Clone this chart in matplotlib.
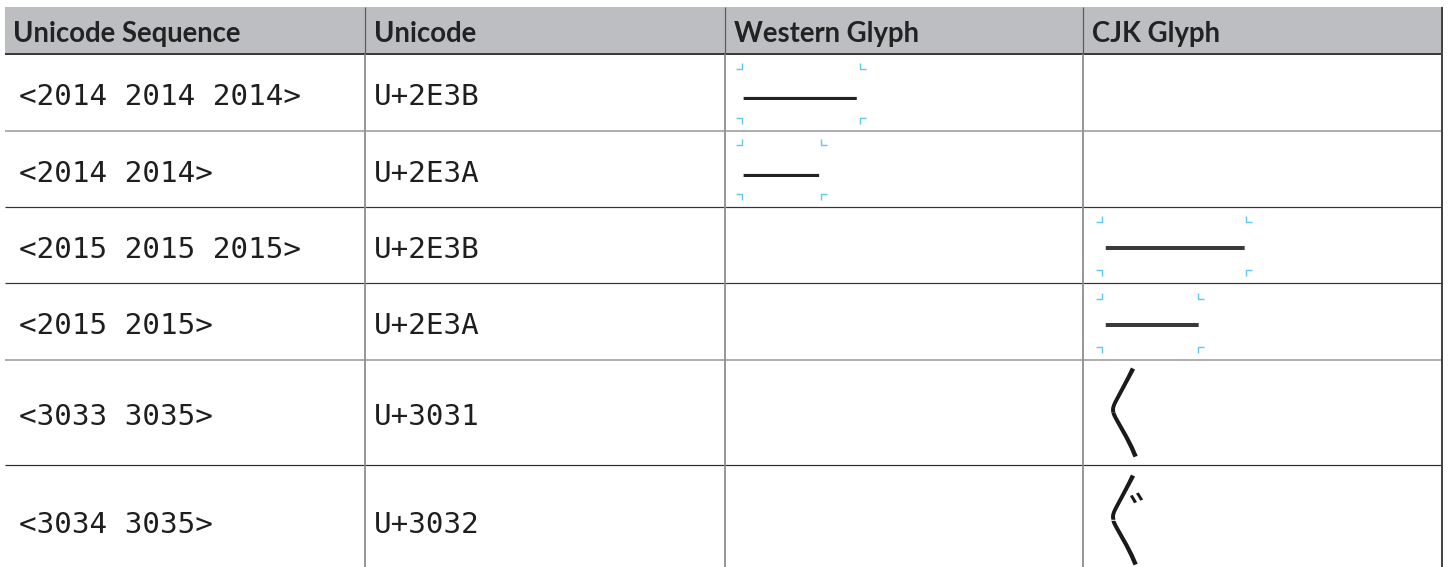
import matplotlib
matplotlib.use("Agg")
import matplotlib.pyplot as plt
from matplotlib.patches import Rectangle

# ---------------- data ----------------
headers = ["Unicode Sequence", "Unicode", "Western Glyph", "CJK Glyph"]
sequences = ["<2014 2014 2014>", "<2014 2014>", "<2015 2015 2015>",
             "<2015 2015>", "<3033 3035>", "<3034 3035>"]
codepoints = ["U+2E3B", "U+2E3A", "U+2E3B", "U+2E3A", "U+3031", "U+3032"]
western_glyphs = ["\u2E3B", "\u2E3A", "", "", "", ""]
cjk_glyphs = ["", "", "\u2E3B", "\u2E3A", "\u3031", "\u3032"]

# glyph advance (in em) of the dash glyphs
ADVANCE_EM = {"\u2E3B": 3, "\u2E3A": 2}
VERTICAL_HALVES = {0x3033, 0x3034, 0x3035}


def seq_chars(seq):
    return [chr(int(h, 16)) for h in seq.strip("<>").split()]


# ---------------- layout ----------------
W, H, DPI = 1450, 567, 100
PT = 72.0 / DPI
col_edges = [5, 365, 725, 1083, 1442]
row_edges = [7, 54, 131, 207, 283, 360, 465, 575]
hline_styles = [("#3a3a3a", 2.0), ("#9c9c9c", 1.6), ("#333333", 1.2),
                ("#333333", 1.2), ("#9c9c9c", 1.6), ("#2b2b2b", 1.2)]
HEADER_BG = "#bdbec2"
TEXT_C = "#1e1e1e"
MARK_C = "#5ec9f3"

fig = plt.figure(figsize=(W / DPI, H / DPI), dpi=DPI)
ax = fig.add_axes([0, 0, 1, 1])
ax.set_xlim(0, W)
ax.set_ylim(H, 0)
ax.axis("off")

# header background
ax.add_patch(Rectangle((col_edges[0], row_edges[0]), col_edges[-1] - col_edges[0],
                       row_edges[1] - row_edges[0], facecolor=HEADER_BG,
                       edgecolor="none", zorder=0))

# horizontal rules
for y, (c, lw) in zip(row_edges[1:-1], hline_styles):
    ax.plot([col_edges[0], col_edges[-1]], [y, y], color=c, lw=lw * PT,
            solid_capstyle="butt", zorder=2)

# vertical rules
for x in col_edges[1:-1]:
    ax.plot([x, x], [row_edges[1], H + 5], color="#8e8e8e", lw=1.8 * PT,
            solid_capstyle="butt", zorder=2)
    ax.plot([x, x], [row_edges[0], row_edges[1]], color="#5a5a5a", lw=1.2 * PT,
            solid_capstyle="butt", zorder=2)
ax.plot([col_edges[-1]] * 2, [row_edges[0], H + 5], color="#444444", lw=2.0 * PT,
        solid_capstyle="butt", zorder=3)

# header text
HEAD_FS = 19.8
head_x = [col_edges[0] + 8, col_edges[1] + 9, col_edges[2] + 9, col_edges[3] + 9]
head_base = 42.0
for hx, label in zip(head_x, headers):
    ax.text(hx, head_base, label, fontsize=HEAD_FS, fontweight="bold",
            family=["Lato", "DejaVu Sans"], color="#222222",
            ha="left", va="baseline")

# body text
BODY_PX = 29.2
BODY_FS = BODY_PX * PT
CAP = 0.729 * BODY_PX
row_centres = [(a + b) / 2 for a, b in zip(row_edges[1:-1], row_edges[2:])]
row_centres[-1] = 520
for i, c in enumerate(row_centres):
    base = c + CAP / 2 + 2
    ax.text(col_edges[0] + 14, base, sequences[i], fontsize=BODY_FS,
            family="DejaVu Sans Mono", color=TEXT_C, ha="left", va="baseline")
    ax.text(col_edges[1] + 9, base, codepoints[i], fontsize=BODY_FS,
            family="DejaVu Sans Mono", color=TEXT_C, ha="left", va="baseline")


def corner_marks(x0, y0, x1, y1, arm=6):
    kw = dict(color=MARK_C, lw=1.4 * PT, solid_capstyle="butt", zorder=4)
    ax.plot([x0 - arm, x0, x0], [y0, y0, y0 - arm], **kw)
    ax.plot([x1 + arm, x1, x1], [y0, y0, y0 - arm], **kw)
    ax.plot([x0 - arm, x0, x0], [y1, y1, y1 + arm], **kw)
    ax.plot([x1 + arm, x1, x1], [y1, y1, y1 + arm], **kw)


# western glyphs
EM_W = 39.5          # glyph box em
GLYPH_PX_W = 41.0    # rendered glyph size
for i, g in enumerate(western_glyphs):
    if not g:
        continue
    c = row_centres[i] + 0.5
    x0 = col_edges[2] + 17
    x1 = x0 + ADVANCE_EM[g] * EM_W
    y0, y1 = c - 24.5, c + 24.5
    corner_marks(x0, y0, x1, y1)
    line_y = y0 + 29.3
    ax.text(x0 - 1, line_y + 0.30 * GLYPH_PX_W, g, fontsize=GLYPH_PX_W * PT,
            family=["Noto Sans", "DejaVu Sans", "Noto Sans CJK JP"],
            color="#222222", ha="left", va="baseline")

# CJK glyphs
EM_C = 48.0          # glyph box em
GLYPH_PX_C = 58.7    # rendered dash size
for i, g in enumerate(cjk_glyphs):
    if not g:
        continue
    x0 = col_edges[3] + 19
    c = row_centres[i]
    parts = seq_chars(sequences[i])
    if ord(parts[0]) in VERTICAL_HALVES:
        # vertical repeat mark shown as its stacked upper / lower halves
        upper, lower = parts
        ax.text(x0, c - 0.12 * EM_C, upper, fontsize=EM_C * PT,
                family=["Noto Sans CJK JP"], color="#1a1a1a",
                ha="left", va="baseline")
        ax.text(x0, c + 0.88 * EM_C, lower, fontsize=EM_C * PT,
                family=["Noto Sans CJK JP"], color="#1a1a1a",
                ha="left", va="baseline")
    else:
        c = c + 1
        x1 = x0 + ADVANCE_EM[g] * EM_C
        y0, y1 = c - EM_C / 2, c + EM_C / 2
        corner_marks(x0, y0, x1, y1)
        line_y = c + 0.5
        ax.text(x0, line_y + 0.317 * GLYPH_PX_C, g, fontsize=GLYPH_PX_C * PT,
                family=["Noto Sans CJK JP"], color="#3a3a3a",
                ha="left", va="baseline")

fig.savefig("out.png", dpi=DPI, facecolor="white")
